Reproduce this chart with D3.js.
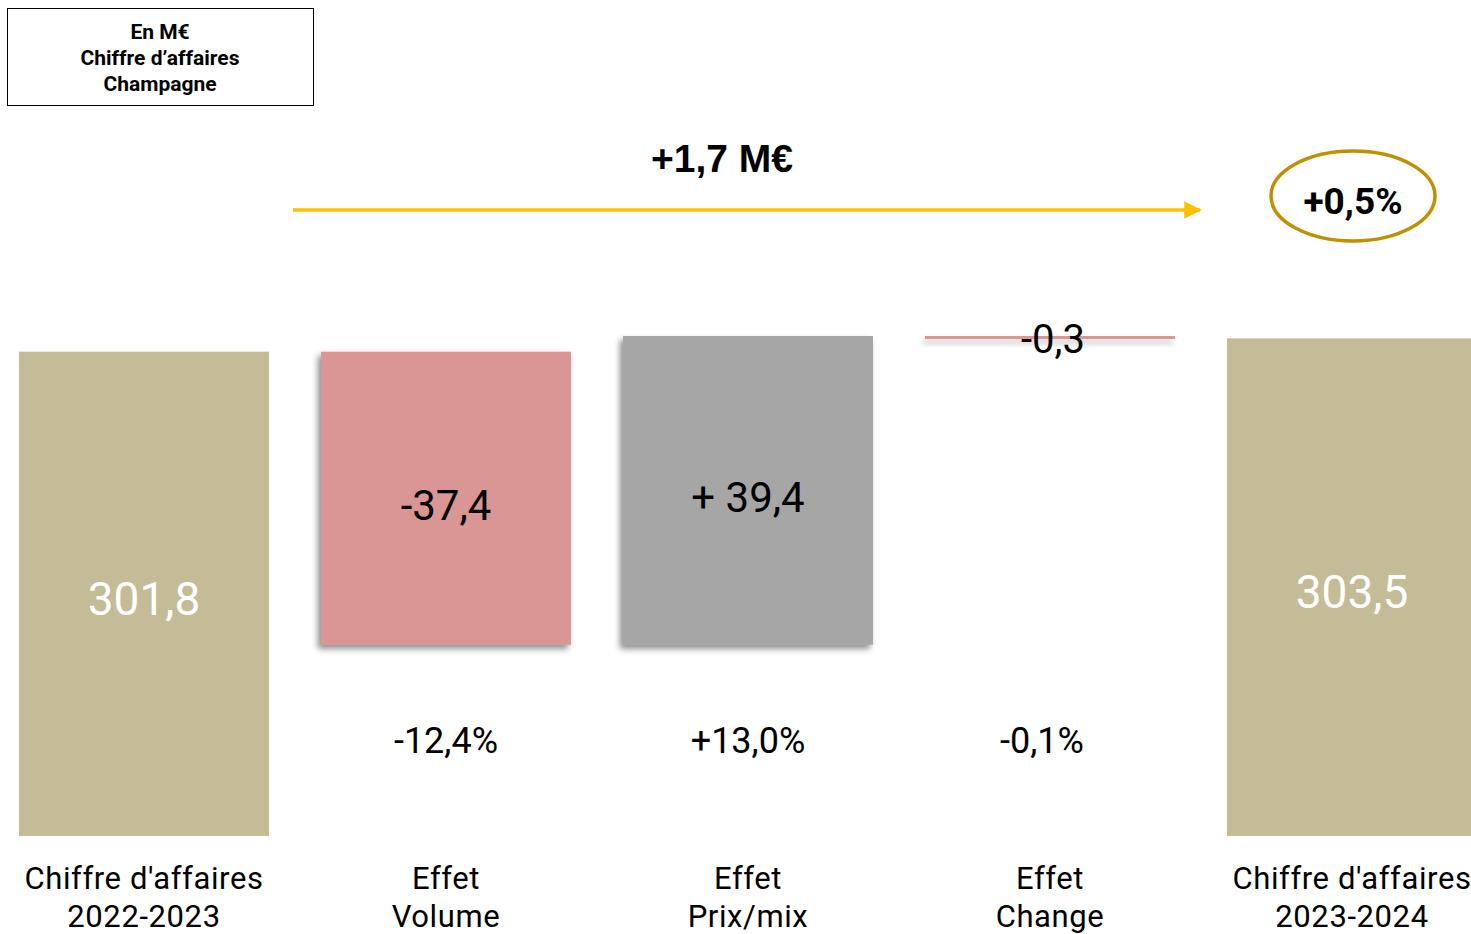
<!DOCTYPE html>
<html>
<head>
<meta charset="utf-8">
<script src="https://cdn.jsdelivr.net/npm/d3@7"></script>
<style>
  body { margin: 0; background: #fff; overflow: hidden; }
  text { font-family: Roboto, "DejaVu Sans", sans-serif; }
</style>
</head>
<body>
<div id="chart"></div>
<script>
// categories and values (M€)
var categories = ["ca2223", "volume", "prix", "change", "ca2324"];
var line1 = ["Chiffre d'affaires", "Effet", "Effet", "Effet", "Chiffre d'affaires"];
var line2 = ["2022-2023", "Volume", "Prix/mix", "Change", "2023-2024"];
var values = [301.8, -37.4, 39.4, -0.3, 303.5];
var kinds = ["total", "delta", "delta", "delta", "total"];
var barLabels = ["301,8", "-37,4", "+ 39,4", "-0,3", "303,5"];
var pctLabels = ["", "-12,4%", "+13,0%", "-0,1%", ""];
var totalChange = "+1,7 M€";
var totalPct = "+0,5%";

var width = 1471, height = 934;
var svg = d3.select("#chart").append("svg")
    .attr("width", width).attr("height", height);

var defs = svg.append("defs");
var sh = defs.append("filter").attr("id", "shadow")
    .attr("x", "-10%").attr("y", "-10%").attr("width", "120%").attr("height", "130%");
sh.append("feDropShadow").attr("dx", -3).attr("dy", 4).attr("stdDeviation", 3)
    .attr("flood-color", "#000").attr("flood-opacity", 0.45);
var sh2 = defs.append("filter").attr("id", "lineshadow")
    .attr("x", "-5%").attr("y", "-300%").attr("width", "110%").attr("height", "700%");
sh2.append("feDropShadow").attr("dx", -2).attr("dy", 4).attr("stdDeviation", 3)
    .attr("flood-color", "#000").attr("flood-opacity", 0.3);
defs.append("marker").attr("id", "arrow")
    .attr("viewBox", "0 0 10 10").attr("refX", 9).attr("refY", 5)
    .attr("markerWidth", 5).attr("markerHeight", 5).attr("orient", "auto")
  .append("path").attr("d", "M0,0L10,5L0,10Z").attr("fill", "#FFC000");

// waterfall steps
var steps = [];
var run = 0;
values.forEach(function(v, i){
    if (kinds[i] === "total") { steps.push({lo: 240, hi: v}); run = v; }
    else { var a = run, b = run + v; steps.push({lo: Math.min(a, b), hi: Math.max(a, b)}); run = b; }
});

var x = d3.scaleBand().domain(categories).range([19, 1477]).paddingInner(52 / 302).paddingOuter(0);
var y = d3.scaleLinear().domain([240, 303.8]).range([836, 336]);

var colors = {ca2223: "#C4BC97", volume: "#D99694", prix: "#A6A6A6", change: "#D99694", ca2324: "#C4BC97"};

var g = svg.append("g");
categories.forEach(function(c, i){
    var s = steps[i];
    if (c === "change") {
        // bar too thin to see: drawn as a 3px strip
        g.append("rect")
            .attr("x", x(c)).attr("width", x.bandwidth())
            .attr("y", y(s.hi)).attr("height", 3)
            .attr("fill", colors[c])
            .attr("filter", "url(#lineshadow)");
        return;
    }
    g.append("rect")
        .attr("x", x(c)).attr("width", x.bandwidth())
        .attr("y", y(s.hi)).attr("height", y(s.lo) - y(s.hi))
        .attr("fill", colors[c])
        .attr("filter", kinds[i] === "delta" ? "url(#shadow)" : null);
});

// value labels
categories.forEach(function(c, i){
    var s = steps[i];
    var cx = x(c) + x.bandwidth() / 2;
    if (kinds[i] === "total") {
        svg.append("text").attr("x", cx).attr("y", (y(s.hi) + y(s.lo)) / 2 + 21)
            .attr("text-anchor", "middle").attr("font-size", 46).attr("fill", "#fff")
            .text(barLabels[i]);
    } else if (c === "change") {
        svg.append("text").attr("x", cx + 3).attr("y", y(s.hi) + 17)
            .attr("text-anchor", "middle").attr("font-size", 40).attr("fill", "#000")
            .text(barLabels[i]);
    } else {
        svg.append("text").attr("x", cx).attr("y", (y(s.hi) + y(s.lo)) / 2 + 22)
            .attr("text-anchor", "middle").attr("font-size", 42).attr("fill", "#000")
            .text(barLabels[i]);
    }
    if (pctLabels[i]) {
        svg.append("text").attr("x", cx - (c === "change" ? 8 : 0)).attr("y", 753)
            .attr("text-anchor", "middle").attr("font-size", 36).attr("fill", "#000")
            .text(pctLabels[i]);
    }
    var t = svg.append("text").attr("x", cx).attr("text-anchor", "middle")
        .attr("font-size", 31).attr("letter-spacing", 0.6).attr("fill", "#000");
    t.append("tspan").attr("x", cx).attr("y", 889).text(line1[i]);
    t.append("tspan").attr("x", cx).attr("y", 927).text(line2[i]);
});

// total arrow
svg.append("line").attr("x1", 293).attr("x2", 1200).attr("y1", 210).attr("y2", 210)
    .attr("stroke", "#FFC000").attr("stroke-width", 3.5).attr("marker-end", "url(#arrow)");
svg.append("text").attr("x", 722).attr("y", 172).attr("text-anchor", "middle")
    .attr("font-size", 39).attr("font-weight", "bold")
    .style("font-family", "'Liberation Sans', Arial, sans-serif").text(totalChange);

// percentage ellipse
svg.append("ellipse").attr("cx", 1353).attr("cy", 196).attr("rx", 82).attr("ry", 45)
    .attr("fill", "none").attr("stroke", "#BF9000").attr("stroke-width", 3.5);
svg.append("text").attr("x", 1353).attr("y", 214).attr("text-anchor", "middle")
    .attr("font-size", 37).attr("font-weight", "bold").text(totalPct);

// unit box
svg.append("rect").attr("x", 7.5).attr("y", 8.5).attr("width", 306).attr("height", 97)
    .attr("fill", "#fff").attr("stroke", "#000").attr("stroke-width", 1);
var bt = svg.append("text").attr("text-anchor", "middle").attr("font-size", 21)
    .attr("font-weight", "bold").attr("fill", "#000");
["En M€", "Chiffre d’affaires", "Champagne"].forEach(function(s, i){
    bt.append("tspan").attr("x", 160).attr("y", 39 + i * 26).text(s);
});
</script>
</body>
</html>
